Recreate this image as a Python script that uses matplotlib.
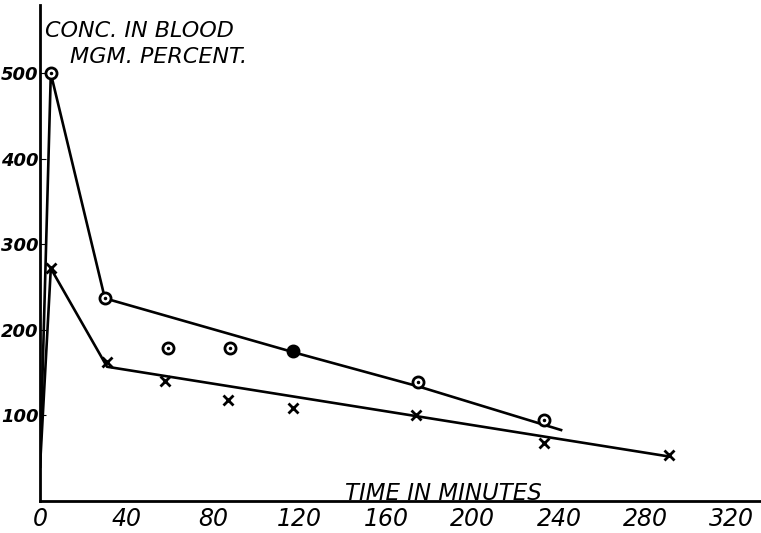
import matplotlib.pyplot as plt

# points marked with circles (upper curve)
circ_t = [5, 30, 59, 88, 117, 175, 233]
circ_v = [500, 237, 179, 179, 175, 139, 95]
circ_solid = [False, False, False, False, True, False, False]

# hand-drawn line through the circles
circ_line_t = [0, 5, 30, 120, 175, 241]
circ_line_v = [40, 500, 237, 172, 134, 83]

# points marked with crosses (lower curve)
cross_t = [5, 31, 58, 87, 117, 174, 233, 291]
cross_v = [272, 163, 140, 118, 109, 101, 68, 54]

cross_line_t = [0, 5, 31, 291]
cross_line_v = [40, 272, 157, 52]

x_ticks = [0, 40, 80, 120, 160, 200, 240, 280, 320]
y_ticks = [100, 200, 300, 400, 500]

fig = plt.figure(figsize=(7.61, 5.33), dpi=100)
ax = fig.add_axes([40 / 761, 32 / 533, 720 / 761, 496 / 533])
ax.set_xlim(0, 333)
ax.set_ylim(0, 580)

ax.plot(circ_line_t, circ_line_v, color='black', lw=1.9)
ax.plot(cross_line_t, cross_line_v, color='black', lw=1.9)

for t, v, s in zip(circ_t, circ_v, circ_solid):
    ax.plot(t, v, marker='o', ms=8, mew=2, mec='black',
            mfc='black' if s else 'white', zorder=3)
    if not s:
        ax.plot(t, v, marker='.', ms=3, color='black', zorder=4)

ax.plot(cross_t, cross_v, ls='none', marker='x', ms=7, mew=2, color='black', zorder=3)

for side in ['top', 'right']:
    ax.spines[side].set_visible(False)
for side in ['left', 'bottom']:
    ax.spines[side].set_linewidth(2)

ax.set_xticks(x_ticks)
ax.set_xticklabels([str(t) for t in x_ticks], fontsize=17, style='italic')
ax.set_yticks(y_ticks)
ax.set_yticklabels([str(v) for v in y_ticks], fontsize=13, style='italic',
                   fontweight='bold')
ax.tick_params(axis='x', length=0, pad=4)
ax.tick_params(axis='y', length=4, direction='in', pad=1)

fig.text(45 / 761, 1 - 31 / 533, 'CONC. IN BLOOD', fontsize=16, style='italic',
         fontweight='medium', va='center', ha='left')
fig.text(70 / 761, 1 - 57 / 533, 'MGM. PERCENT.', fontsize=16, style='italic',
         fontweight='medium', va='center', ha='left')
fig.text(345 / 761, 1 - 494 / 533, 'TIME IN MINUTES', fontsize=16.5, style='italic',
         fontweight='medium', va='center', ha='left')

plt.savefig('out.png', dpi=100)
